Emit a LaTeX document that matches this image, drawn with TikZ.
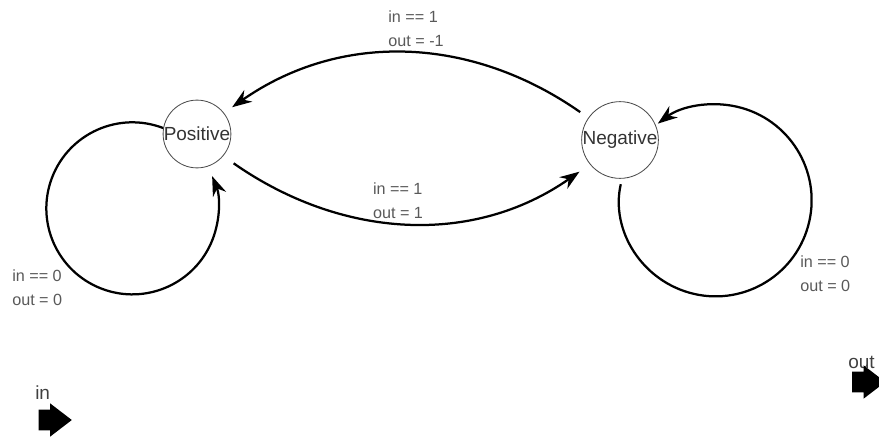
\documentclass[tikz,border=0pt]{standalone}
\usepackage{fontspec}
\setmainfont{Liberation Sans}
\usetikzlibrary{arrows.meta, shapes.arrows}
\tikzstyle{state} = [circle, minimum size=1.6cm, inner sep=0pt, draw=black!70, line width=0.6pt, text=black!80, font=\fontsize{13.5}{16}\selectfont]
\tikzstyle{arrow} = [line width=1.6pt, ->, >={Stealth[length=14pt, width=10pt]}]
\tikzstyle{cond} = [align=left, inner sep=0pt, text=black!65, font=\fontsize{11.5}{17}\selectfont]
\tikzstyle{port} = [single arrow, fill=black, inner xsep=0pt, inner ysep=0.25cm, minimum height=0.83cm, single arrow head extend=0.16cm, single arrow tip angle=75]
\tikzstyle{portlabel} = [inner sep=0pt, text=black!75, font=\fontsize{13.5}{16}\selectfont]

\begin{document}
\begin{tikzpicture}[x=0.025cm, y=0.025cm]
  \clip (0,0) rectangle (879,436);

  \node[state] (positive) at (197,302) {Positive};
  \node[state] (negative) at (620,296) {Negative};

  % transitions between the two states
  \draw[arrow, shorten <=7pt, shorten >=7pt] (negative.145) to[out=145, in=35] (positive.38);
  \draw[arrow, shorten <=9pt, shorten >=9pt] (positive.-40) to[out=-35, in=-145] (negative.-141);
  \node[cond] (negpos) at (416,407) {in == 1\\out = -1};
  \node[cond] (posneg) at (398,235) {in == 1\\out = 1};

  % self loops
  \draw[arrow] (positive.170) arc[start angle=69, end angle=382, radius=2.15cm];
  \draw[arrow, shorten <=4pt] (negative.-87) arc[start angle=167, end angle=487, radius=2.4cm];
  \node[cond, anchor=west] (pospos) at (12,148) {in == 0\\out = 0};
  \node[cond, anchor=west] (negneg) at (800,162) {in == 0\\out = 0};

  % input and output ports
  \node[portlabel, anchor=west] (inlabel) at (35,43) {in};
  \node[port] (inport) at (48.5,16) {};
  \node[portlabel] (outlabel) at (861.5,74) {out};
  \node[port] (outport) at (862,54) {};
\end{tikzpicture}
\end{document}
